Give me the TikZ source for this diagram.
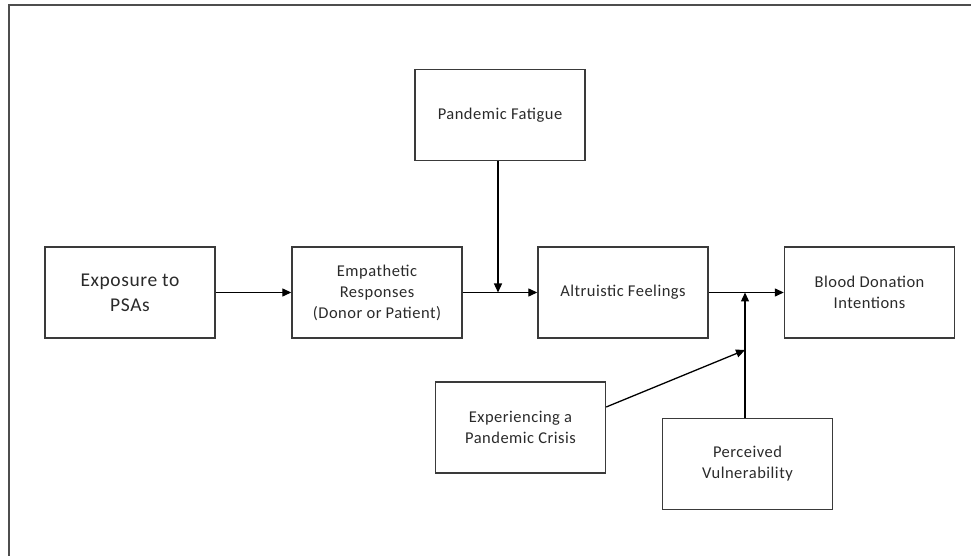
\documentclass[tikz,border=0pt]{standalone}
\usepackage{fontspec}
\setmainfont{Carlito}[LetterSpace=3]
\usetikzlibrary{arrows.meta,positioning}
\definecolor{boxline}{HTML}{3A3A3A}
\definecolor{txt}{HTML}{2A2A2A}
\tikzset{
  boxnode/.style={draw=boxline, line width=1.4pt, minimum width=170pt, minimum height=91pt, align=center, text=txt, font=\fontsize{16.5}{21}\selectfont, inner sep=0pt},
  conn/.style={draw=black, line width=1.3pt},
  arr/.style={conn, -{Triangle[length=9pt,width=8pt]}},
}
\begin{document}
\begin{tikzpicture}[x=1pt,y=1pt]
\useasboundingbox (0,0) rectangle (971,556);
\draw[draw=boxline!90, line width=2pt] (9,0) -- (9,551) -- (971,551);
% boxes (centers; y = 556 - px)
\node[boxnode, font=\fontsize{19.5}{25}\selectfont] (exp) at (130,263.5) {Exposure to\\PSAs};
\node[boxnode] (emp) at (377,263.5) {Empathetic\\Responses\\(Donor or Patient)};
\node[boxnode] (fat) at (500,441) {Pandemic Fatigue};
\node[boxnode] (alt) at (623,263.5) {Altruistic Feelings};
\node[boxnode] (bld) at (869.5,263.5) {Blood Donation\\Intentions};
\node[boxnode] (crs) at (520.5,128.5) {Experiencing a\\Pandemic Crisis};
\node[boxnode] (vul) at (747.5,92) {Perceived\\Vulnerability};
\coordinate (j1) at (498,263.5);
\coordinate (j2) at (745,263.5);
\coordinate (j3) at (745,206);
\draw[arr] (exp) -- (emp);
\draw[arr] (emp) -- (alt);
\draw[arr] (fat.south -| j1) -- (j1);
\draw[arr] (alt) -- (bld);
\draw[arr] (vul.north -| j2) -- (j2);
\draw[arr] (crs.east |- 0,149) -- (j3);
\end{tikzpicture}
\end{document}
